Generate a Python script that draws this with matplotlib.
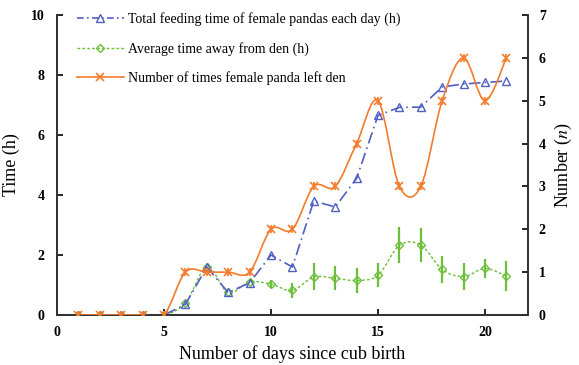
import matplotlib
matplotlib.use("Agg")
import matplotlib.pyplot as plt
from matplotlib.path import Path
from matplotlib.patches import PathPatch
from matplotlib.lines import Line2D
import numpy as np

plt.rcParams['font.family'] = ['Liberation Serif', 'DejaVu Serif']
plt.rcParams['mathtext.fontset'] = 'stix'

# donnees
jours = [1, 2, 3, 4, 5, 6, 7, 8, 9, 10, 11, 12, 13, 14, 15, 16, 17, 18, 19, 20, 21]
temps_alim = [0, 0, 0, 0, 0, 0.35, 1.6, 0.75, 1.07, 2.0, 1.6, 3.8, 3.6, 4.55,
              6.65, 6.92, 6.93, 7.6, 7.7, 7.75, 7.8]
temps_hors = [0, 0, 0, 0, 0, 0.4, 1.6, 0.75, 1.1, 1.03, 0.82, 1.27, 1.22, 1.15,
              1.32, 2.32, 2.33, 1.52, 1.28, 1.55, 1.3]
err_hors = [0, 0, 0, 0, 0, 0, 0, 0, 0, 0.12, 0.24, 0.45, 0.4, 0.42,
            0.4, 0.6, 0.58, 0.45, 0.45, 0.32, 0.5]
nb_sorties = [0, 0, 0, 0, 0, 1, 1, 1, 1, 2, 2, 3, 3, 4, 5, 3, 3, 5, 6, 5, 6]

labels = ["Total feeding time of female pandas each day (h)",
          "Average time away from den (h)",
          "Number of times female panda left den"]

bleu = '#4f5fc4'
vert = '#6cbf3a'
orange = '#f27b2c'


def courbe_lisse(x, y):
    # segments de Bezier cubiques (lissage facon tableur)
    x = np.asarray(x, float)
    y = np.asarray(y, float)
    n = len(x)
    verts = [(x[0], y[0])]
    codes = [Path.MOVETO]
    for i in range(n - 1):
        x0, y0 = (x[i - 1], y[i - 1]) if i > 0 else (x[i], y[i])
        x3, y3 = (x[i + 2], y[i + 2]) if i + 2 < n else (x[i + 1], y[i + 1])
        c1 = (x[i] + (x[i + 1] - x0) / 6, y[i] + (y[i + 1] - y0) / 6)
        c2 = (x[i + 1] - (x3 - x[i]) / 6, y[i + 1] - (y3 - y[i]) / 6)
        verts += [c1, c2, (x[i + 1], y[i + 1])]
        codes += [Path.CURVE4, Path.CURVE4, Path.CURVE4]
    return Path(verts, codes)


fig = plt.figure(figsize=(5.79, 3.65), dpi=100)
ax = fig.add_axes([0.0985, 0.137, 0.813, 0.822])
ax2 = ax.twinx()

# temps hors tanniere (vert, lisse, barres d'erreur)
ax.errorbar(jours, temps_hors, yerr=err_hors, fmt='none', ecolor=vert,
            elinewidth=1.6, capsize=0, zorder=2)
ax.add_patch(PathPatch(courbe_lisse(jours, temps_hors), facecolor='none',
                       edgecolor=vert, lw=1.0, ls=(0, (2, 1.5)), zorder=3))
ax.plot(jours, temps_hors, ls='none', marker='D', ms=4.5, mfc='none',
        mec=vert, mew=1.0, zorder=4)

# temps d'alimentation (bleu)
ax.plot(jours, temps_alim, color=bleu, lw=1.2, ls=(0, (7, 2.5, 1, 2.5)),
        marker='^', ms=6, mfc='none', mec=bleu, mew=1.0, zorder=5)

# nombre de sorties (orange, lisse)
ax2.add_patch(PathPatch(courbe_lisse(jours, nb_sorties), facecolor='none',
                        edgecolor=orange, lw=1.2, zorder=3))
ax2.plot(jours, nb_sorties, ls='none', marker='x', ms=6, mec=orange, mew=1.2, zorder=4)
ax2.plot(jours, nb_sorties, ls='none', marker='|', ms=6, mec=orange, mew=1.2, zorder=4)

ax.set_xlim(0, 22)
ax.set_ylim(0, 10)
ax2.set_ylim(0, 7)
ax.set_xticks([0, 5, 10, 15, 20])
ax.set_yticks([0, 2, 4, 6, 8, 10])
ax2.set_yticks(range(0, 8))

for a in (ax, ax2):
    a.spines['top'].set_visible(False)
    for s in a.spines.values():
        s.set_linewidth(1.3)
        s.set_color('#333333')
    a.tick_params(direction='in', length=4, width=1.2, labelsize=10)
    for t in a.get_xticklabels() + a.get_yticklabels():
        t.set_fontweight('bold')
ax.tick_params(axis='x', pad=8)
ax.tick_params(axis='y', pad=9)
ax2.tick_params(axis='y', pad=8)

ax.set_xlabel("Number of days since cub birth", fontsize=13, labelpad=4)
ax.set_ylabel("Time (h)", fontsize=13, labelpad=8)
ax2.set_ylabel("Number ($n$)", fontsize=13, labelpad=5)

poignees = [
    Line2D([], [], color=bleu, lw=1.2, ls=(0, (4, 2, 1, 2)), marker='^', ms=6, mfc='none'),
    Line2D([], [], color=vert, lw=1.0, ls=(0, (2, 1.5)), marker='D', ms=4.5, mfc='none'),
    Line2D([], [], color=orange, lw=1.2, marker='x', ms=6, mew=1.2),
]
ax2.legend(poignees, labels, loc='upper left', frameon=False, fontsize=10,
           handlelength=3.4, handletextpad=0.3, labelspacing=1.1,
           bbox_to_anchor=(0.015, 1.05))

fig.savefig("out.png", dpi=100)
